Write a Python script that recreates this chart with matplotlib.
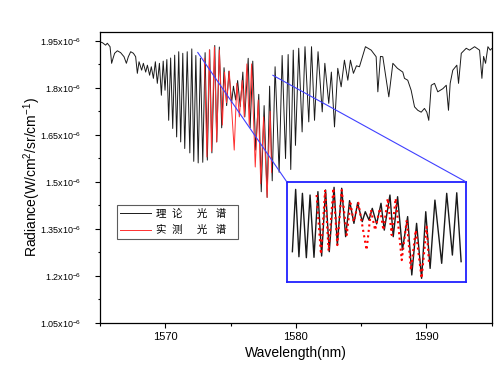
import numpy as np
import matplotlib
matplotlib.use('Agg')
import matplotlib.pyplot as plt
from matplotlib.patches import ConnectionPatch
from matplotlib.ticker import MultipleLocator, FuncFormatter

plt.rcParams['font.family'] = ['Liberation Sans', 'Noto Sans CJK SC', 'DejaVu Sans']
plt.rcParams['mathtext.default'] = 'regular'

# theoretical spectrum: wavelength (nm) and radiance (1e-6 W/cm2/sr/cm-1), peaks and line bottoms
theory_wl = [
    1564.95, 1565.18, 1565.43, 1565.56, 1565.77, 1565.89, 1566.00, 1566.12, 1566.33, 1566.58,
    1566.84, 1567.02, 1567.17, 1567.35, 1567.56, 1567.73, 1567.86, 1567.99, 1568.19, 1568.32,
    1568.50, 1568.63, 1568.80, 1568.93, 1569.09, 1569.24, 1569.39, 1569.55, 1569.70, 1569.84,
    1569.98, 1570.12, 1570.26, 1570.41, 1570.57, 1570.72, 1570.87, 1571.03, 1571.18, 1571.34,
    1571.49, 1571.68, 1571.88, 1572.03, 1572.18, 1572.34, 1572.52, 1572.69, 1572.87, 1573.05,
    1573.22, 1573.40, 1573.57, 1573.79, 1573.94, 1574.14, 1574.32, 1574.50, 1574.70, 1574.87,
    1575.08, 1575.22, 1575.39, 1575.54, 1575.74, 1575.94, 1576.09, 1576.35, 1576.50, 1576.70,
    1576.92, 1577.16, 1577.35, 1577.57, 1577.80, 1577.99, 1578.19, 1578.41, 1578.72, 1578.95,
    1579.21, 1579.41, 1579.61, 1579.80, 1579.97, 1580.22, 1580.48, 1580.70, 1580.99, 1581.20,
    1581.43, 1581.70, 1582.02, 1582.22, 1582.52, 1582.72, 1582.96, 1583.21, 1583.47, 1583.72,
    1583.98, 1584.18, 1584.41, 1584.64, 1584.87, 1585.33, 1585.77, 1586.15, 1586.28, 1586.48,
    1586.66, 1587.12, 1587.43, 1587.78, 1588.19, 1588.32, 1588.57, 1588.83, 1589.09, 1589.34,
    1589.60, 1589.85, 1590.03, 1590.18, 1590.37, 1590.62, 1590.87, 1591.26, 1591.52, 1591.69,
    1591.82, 1592.02, 1592.33, 1592.46, 1592.67, 1593.05, 1593.30, 1593.69, 1594.07, 1594.25,
    1594.38, 1594.53, 1594.71, 1594.89, 1595.00,
]
theory_rad = [
    1.947, 1.944, 1.936, 1.942, 1.931, 1.878, 1.894, 1.910, 1.918, 1.912,
    1.899, 1.878, 1.899, 1.915, 1.910, 1.899, 1.846, 1.883, 1.856, 1.878,
    1.850, 1.872, 1.840, 1.867, 1.830, 1.883, 1.814, 1.878, 1.776, 1.885,
    1.792, 1.890, 1.696, 1.895, 1.670, 1.904, 1.643, 1.915, 1.627, 1.910,
    1.606, 1.915, 1.592, 1.924, 1.565, 1.903, 1.560, 1.894, 1.562, 1.912,
    1.569, 1.921, 1.592, 1.935, 1.627, 1.930, 1.672, 1.864, 1.743, 1.853,
    1.752, 1.805, 1.761, 1.823, 1.740, 1.850, 1.707, 1.894, 1.672, 1.885,
    1.601, 1.779, 1.468, 1.743, 1.450, 1.805, 1.503, 1.867, 1.530, 1.903,
    1.574, 1.906, 1.539, 1.920, 1.616, 1.926, 1.659, 1.931, 1.691, 1.931,
    1.696, 1.915, 1.723, 1.878, 1.750, 1.850, 1.675, 1.862, 1.803, 1.888,
    1.824, 1.888, 1.846, 1.870, 1.867, 1.931, 1.920, 1.899, 1.787, 1.900,
    1.899, 1.771, 1.878, 1.862, 1.850, 1.830, 1.824, 1.792, 1.739, 1.728,
    1.722, 1.734, 1.722, 1.696, 1.808, 1.814, 1.787, 1.797, 1.808, 1.728,
    1.814, 1.856, 1.872, 1.814, 1.910, 1.926, 1.920, 1.931, 1.920, 1.830,
    1.900, 1.878, 1.931, 1.920, 1.925,
]

# measured spectrum
measured_wl = [
    1572.99, 1573.19, 1573.38, 1573.54, 1573.76, 1573.94, 1574.14, 1574.37, 1574.54, 1574.69,
    1574.90, 1575.28, 1575.48, 1575.67, 1575.89, 1576.05, 1576.25, 1576.43, 1576.61, 1576.89,
    1577.12, 1577.31, 1577.53, 1577.80, 1578.03, 1578.14,
]
measured_rad = [
    1.894, 1.579, 1.921, 1.597, 1.930, 1.627, 1.921, 1.681, 1.850, 1.752,
    1.853, 1.601, 1.814, 1.707, 1.823, 1.707, 1.876, 1.681, 1.876, 1.547,
    1.761, 1.494, 1.707, 1.450, 1.725, 1.530,
]

legend_labels = ['理  论     光   谱   ', '实  测     光   谱   ']

theory_wl = np.array(theory_wl)
theory_rad = np.array(theory_rad)

fig = plt.figure(figsize=(5, 3.67), dpi=100)
ax = fig.add_axes([0.2, 0.1207, 0.7834, 0.7913])

ax.plot(theory_wl, theory_rad, color='#1a1a1a', lw=0.7, label=legend_labels[0])
ax.plot(measured_wl, measured_rad, color='#ff3030', lw=0.7, label=legend_labels[1])

ax.set_xlim(1565, 1595)
ax.set_ylim(1.05, 1.977)
ax.xaxis.set_major_locator(MultipleLocator(10))
ax.xaxis.set_minor_locator(MultipleLocator(5))
ax.yaxis.set_major_locator(MultipleLocator(0.15))
ax.yaxis.set_minor_locator(MultipleLocator(0.075))
ax.yaxis.set_major_formatter(FuncFormatter(lambda v, p: '%gx10$^{-6}$' % round(v, 2)))
ax.tick_params(which='major', direction='out', length=3.3, width=0.8)
ax.tick_params(which='minor', direction='out', length=1.8, width=0.8)
ax.tick_params(axis='x', labelsize=8)
ax.tick_params(axis='y', labelsize=6.5, pad=10)
for s in ax.spines.values():
    s.set_linewidth(0.9)

ax.set_xlabel('Wavelength(nm)', fontsize=10, labelpad=3)
ax.set_ylabel('Radiance(W/cm$^2$/sr/cm$^{-1}$)', fontsize=10)
ax.yaxis.set_label_coords(-0.145, 0.5)

leg = ax.legend(loc='upper left', bbox_to_anchor=(0.043, 0.405), fontsize=7.5,
                frameon=True, fancybox=False, edgecolor='#333333', handlelength=2.9,
                handletextpad=0.5, labelspacing=0.6, borderpad=0.35, borderaxespad=0)
leg.get_frame().set_linewidth(0.8)

# inset with the zoomed band
sel = (theory_wl >= 1571.85) & (theory_wl <= 1579.65)
axin = fig.add_axes([0.5734, 0.2324, 0.358, 0.2725])
axin.plot(theory_wl[sel], theory_rad[sel], color='#1a1a1a', lw=1.0)
axin.plot(measured_wl, measured_rad, color='red', lw=1.5, ls=':')
axin.set_xlim(1571.62, 1579.82)
axin.set_ylim(1.432, 1.965)
axin.set_xticks([])
axin.set_yticks([])
for s in axin.spines.values():
    s.set_color('#2020ff')
    s.set_linewidth(1.3)

for xa, ya, xb in [(1572.48, 1.913, 0), (1578.23, 1.84, 1)]:
    con = ConnectionPatch(xyA=(xa, ya), coordsA=ax.transData, xyB=(xb, 1),
                          coordsB=axin.transAxes, color='#4040ff', lw=0.8)
    fig.add_artist(con)

fig.savefig('out.png', dpi=100)
